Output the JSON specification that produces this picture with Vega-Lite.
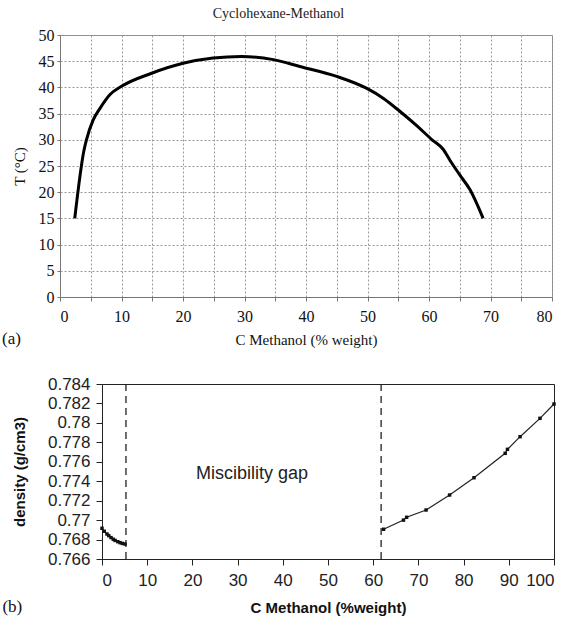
{
  "$schema": "https://vega.github.io/schema/vega-lite/v6.json",
  "background": "white",
  "padding": {"left": 0, "right": 1, "top": 6, "bottom": 2},
  "title": {"text": "Cyclohexane-Methanol", "font": "Liberation Serif", "fontSize": 14, "fontWeight": "normal", "color": "#222", "anchor": "middle", "offset": 6},
  "spacing": 26,
  "config": {"view": {"stroke": null}},
  "vconcat": [
    {
      "spacing": 0,
      "hconcat": [
        {"width": 1, "height": 1, "data": {"values": []}, "mark": "point"},
        {
          "width": 492,
          "height": 262,
          "title": {"text": "(a)", "orient": "bottom", "anchor": "start", "font": "Liberation Serif", "fontSize": 17, "fontWeight": "normal", "color": "#111", "dy": -20, "dx": -10},
          "view": {"stroke": "#888"},
          "data": {"values": [
            {"c": 2.4, "T": 15}, {"c": 3.9, "T": 28}, {"c": 4.3, "T": 30}, {"c": 5.4, "T": 33.8},
            {"c": 6.5, "T": 36}, {"c": 8.1, "T": 38.6}, {"c": 10, "T": 40.2}, {"c": 14.9, "T": 42.7},
            {"c": 20, "T": 44.6}, {"c": 24.9, "T": 45.6}, {"c": 29.5, "T": 45.9}, {"c": 34.7, "T": 45.3},
            {"c": 39.0, "T": 44.0}, {"c": 45.0, "T": 42.1}, {"c": 49.9, "T": 39.8}, {"c": 52.6, "T": 37.9},
            {"c": 55.3, "T": 35.4}, {"c": 58.0, "T": 32.7}, {"c": 60.5, "T": 30.0}, {"c": 62.3, "T": 28.2},
            {"c": 63.4, "T": 26.1}, {"c": 65.0, "T": 23.3}, {"c": 66.7, "T": 20.4}, {"c": 68.8, "T": 15.0}
          ]},
          "mark": {"type": "line", "color": "black", "strokeWidth": 3, "interpolate": "monotone"},
          "encoding": {
            "x": {"field": "c", "type": "quantitative", "scale": {"domain": [0, 80], "nice": false},
              "axis": {"values": [0,5,10,15,20,25,30,35,40,45,50,55,60,65,70,75,80], "tickCount": 40,
                "labelExpr": "datum.value % 10 === 0 ? datum.label : ''",
                "grid": true, "gridDash": [2, 2], "gridColor": "#999", "gridOpacity": 1,
                "domainColor": "#777", "tickColor": "#777", "tickSize": 4,
                "labelFont": "Liberation Serif", "labelFontSize": 16, "labelColor": "#111", "labelPadding": 7, "labelOverlap": false,
                "title": "C Methanol (% weight)", "titleFont": "Liberation Serif", "titleFontSize": 15,
                "titleFontWeight": "normal", "titleColor": "#111", "titlePadding": 8}},
            "y": {"field": "T", "type": "quantitative", "scale": {"domain": [0, 50], "nice": false},
              "axis": {"values": [0,5,10,15,20,25,30,35,40,45,50], "tickCount": 40,
                "grid": true, "gridDash": [2, 2], "gridColor": "#999", "gridOpacity": 1,
                "domainColor": "#777", "tickColor": "#777", "tickSize": 3,
                "labelFont": "Liberation Serif", "labelFontSize": 16, "labelColor": "#111", "labelPadding": 3, "labelOverlap": false,
                "title": "T (°C)", "titleFont": "Liberation Serif", "titleFontSize": 15,
                "titleFontWeight": "normal", "titleColor": "#111", "titlePadding": 11}}
          }
        }
      ]
    },
    {
      "spacing": 0,
      "hconcat": [
        {"width": 1, "height": 1, "data": {"values": []}, "mark": "point"},
        {
          "width": 452,
          "height": 175,
          "title": {"text": "(b)", "orient": "bottom", "anchor": "start", "font": "Liberation Serif", "fontSize": 17, "fontWeight": "normal", "color": "#111", "dy": -20, "dx": -10},
          "view": {"stroke": "#222"},
          "layer": [
            {
              "data": {"values": [{"c": 5.3}, {"c": 61.75}]},
              "mark": {"type": "rule", "strokeDash": [7, 5], "color": "#222", "strokeWidth": 1.3},
              "encoding": {"x": {"field": "c", "type": "quantitative", "scale": {"domain": [0, 100], "nice": false}}}
            },
            {
              "data": {"values": [{"label": "Miscibility gap", "c": 33.2, "d": 0.7747}]},
              "mark": {"type": "text", "font": "Liberation Sans", "fontSize": 18, "color": "#222"},
              "encoding": {
                "x": {"field": "c", "type": "quantitative"},
                "y": {"field": "d", "type": "quantitative"},
                "text": {"field": "label"}
              }
            },
            {
              "data": {"name": "dens"},
              "mark": {"type": "line", "color": "#222", "strokeWidth": 1.2},
              "encoding": {
                "x": {"field": "c", "type": "quantitative",
                  "axis": {"values": [0,10,20,30,40,50,60,70,80,90,100], "tickCount": 40, "grid": false,
                    "domainColor": "#222", "tickColor": "#222", "tickSize": 6,
                    "labelFont": "Liberation Sans", "labelFontSize": 17, "labelColor": "#222", "labelPadding": 7, "labelOverlap": false,
                    "title": "C Methanol (%weight)", "titleFont": "Liberation Sans", "titleFontSize": 15,
                    "titleFontWeight": "bold", "titleColor": "#111", "titlePadding": 12}},
                "y": {"field": "d", "type": "quantitative", "scale": {"domain": [0.766, 0.784], "nice": false, "zero": false},
                  "axis": {"values": [0.766,0.768,0.77,0.772,0.774,0.776,0.778,0.78,0.782,0.784], "tickCount": 40, "format": "~g", "grid": false,
                    "domainColor": "#222", "tickColor": "#222", "tickSize": 6,
                    "labelFont": "Liberation Sans", "labelFontSize": 17, "labelColor": "#222", "labelPadding": 6, "labelOverlap": false, "labelSeparation": 0,
                    "title": "density (g/cm3)", "titleFont": "Liberation Sans", "titleFontSize": 15,
                    "titleFontWeight": "bold", "titleColor": "#111", "titlePadding": 20}},
                "detail": {"field": "side"}
              }
            },
            {
              "data": {"name": "dens"},
              "mark": {"type": "square", "color": "#111", "size": 12, "opacity": 1},
              "encoding": {
                "x": {"field": "c", "type": "quantitative"},
                "y": {"field": "d", "type": "quantitative"}
              }
            }
          ]
        }
      ]
    }
  ],
  "datasets": {
    "dens": [
      {"side": "L", "c": 0, "d": 0.76916}, {"side": "L", "c": 0.5, "d": 0.76885}, {"side": "L", "c": 1.1, "d": 0.76857},
      {"side": "L", "c": 1.5, "d": 0.7684}, {"side": "L", "c": 2.0, "d": 0.7682}, {"side": "L", "c": 2.5, "d": 0.76803},
      {"side": "L", "c": 2.9, "d": 0.76791}, {"side": "L", "c": 3.5, "d": 0.76778}, {"side": "L", "c": 4.0, "d": 0.76768},
      {"side": "L", "c": 4.5, "d": 0.7676}, {"side": "L", "c": 5.1, "d": 0.76754},
      {"side": "R", "c": 62.3, "d": 0.76906}, {"side": "R", "c": 66.7, "d": 0.7700}, {"side": "R", "c": 67.4, "d": 0.77029},
      {"side": "R", "c": 71.7, "d": 0.77104}, {"side": "R", "c": 76.9, "d": 0.77258}, {"side": "R", "c": 82.3, "d": 0.77436},
      {"side": "R", "c": 89.2, "d": 0.77687}, {"side": "R", "c": 89.7, "d": 0.77728}, {"side": "R", "c": 92.5, "d": 0.77858},
      {"side": "R", "c": 96.9, "d": 0.78047}, {"side": "R", "c": 100, "d": 0.78194}
    ]
  }
}
